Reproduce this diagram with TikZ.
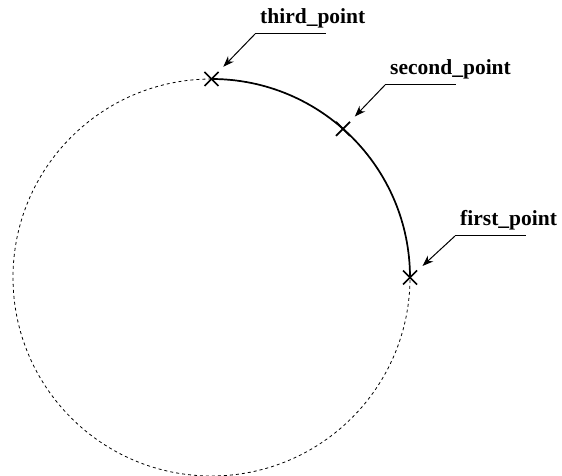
\documentclass[tikz,border=0pt]{standalone}
\usepackage{fontspec}
\setmainfont{Liberation Serif}
\usetikzlibrary{arrows.meta,calc}
\tikzset{
  dashcircle/.style={draw=black, line width=0.8pt, dash pattern=on 3pt off 3pt},
  arcline/.style={draw=black, line width=1.7pt},
  crossmark/.style={draw=black, line width=1.7pt},
  leader/.style={draw=black, line width=1pt},
  leaderarrow/.style={draw=black, line width=1pt, -{Stealth[length=11pt,width=8pt]}, shorten >=17pt},
  lbl/.style={anchor=base west, inner sep=0pt, font=\fontsize{21.5}{25}\selectfont\bfseries}
}
\begin{document}
\begin{tikzpicture}[x=1pt,y=1pt]
\useasboundingbox (0,0) rectangle (562,476);
\coordinate (c) at (211.5,198.5);
\def\R{198.5}
\draw[dashcircle] (c) circle (\R);
\draw[arcline] ($(c)+(0:\R)$) arc (0:90:\R);
\coordinate (p1) at ($(c)+(0:\R)$);
\coordinate (p2) at ($(c)+(48.5:\R)$);
\coordinate (p3) at ($(c)+(90:\R)$);
\foreach \p in {p1,p2,p3}{
  \draw[crossmark] ($(\p)+(-7,-7)$) -- ($(\p)+(7,7)$);
  \draw[crossmark] ($(\p)+(-7,7)$) -- ($(\p)+(7,-7)$);
}
% labels
\coordinate (u1) at (455,240);
\coordinate (u2) at (385,391);
\coordinate (u3) at (255,442);
\node[lbl] (l1) at ($(u1)+(5,10)$) {first\_point};
\node[lbl] (l2) at ($(u2)+(5,10)$) {second\_point};
\node[lbl] (l3) at ($(u3)+(5,10)$) {third\_point};
\foreach \u/\p in {u1/p1,u2/p2,u3/p3}{
  \draw[leader] (\u) -- ++(71,0);
  \draw[leaderarrow] (\u) -- (\p);
}
\end{tikzpicture}
\end{document}
